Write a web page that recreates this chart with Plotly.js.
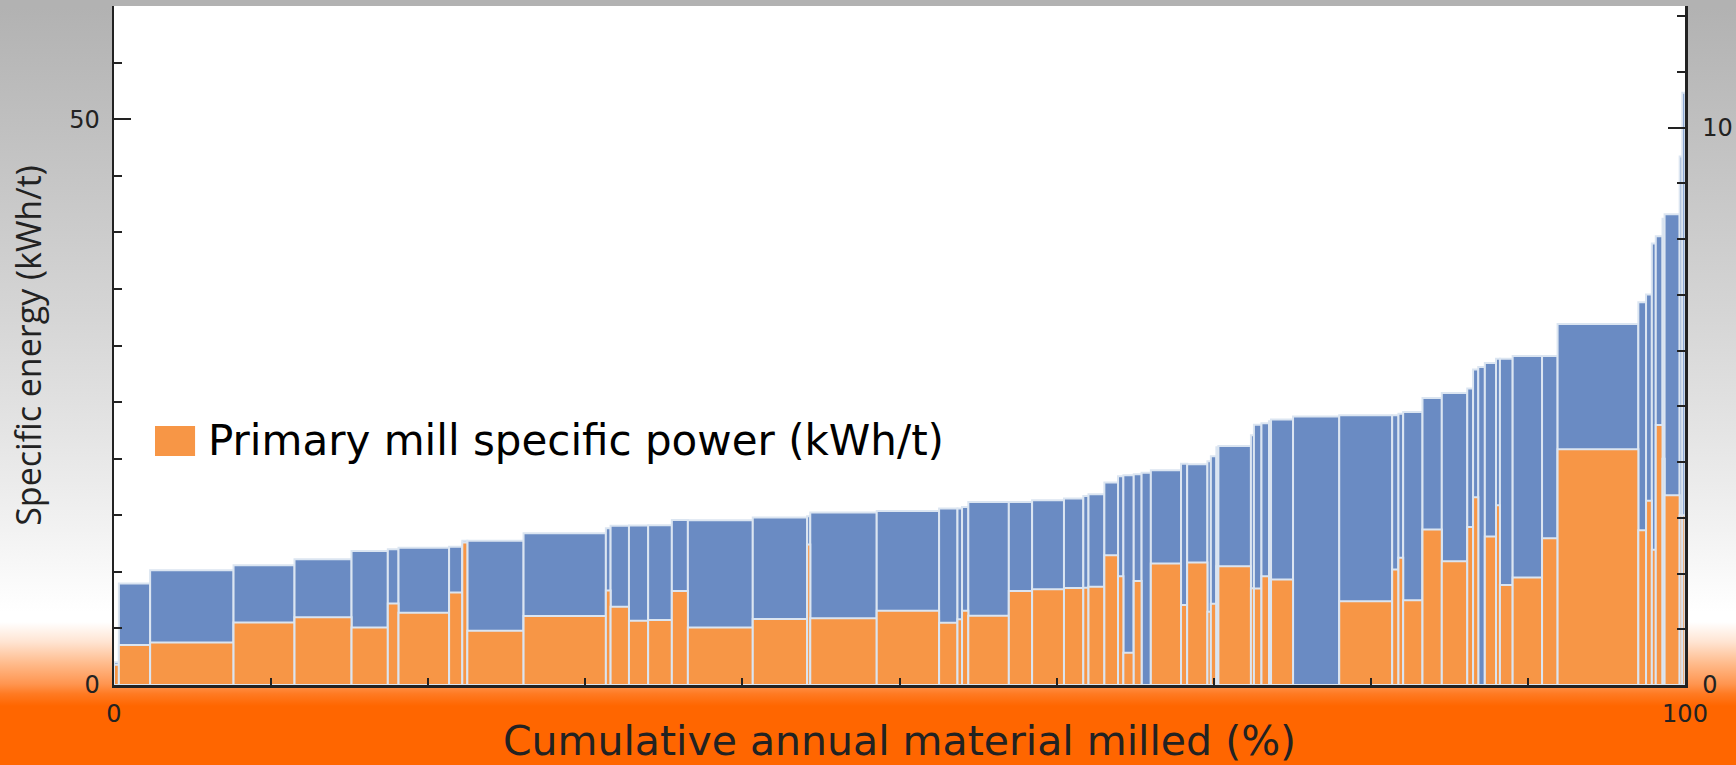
<!DOCTYPE html>
<html>
<head>
<meta charset="utf-8">
<script src="https://cdn.plot.ly/plotly-3.0.1.min.js"></script>
<style>
  html, body { margin: 0; padding: 0; }
  #chart {
    width: 1736px; height: 765px;
    background: linear-gradient(to bottom,
      #b2b2b2 0px, #b2b2b2 8px, #b8b8b8 60px, #c6c6c6 180px, #d6d6d6 320px,
      #e4e4e4 430px, #f2f2f2 530px, #ffffff 612px, #ffffff 622px,
      #ffe4d2 642px, #ffba8a 664px, #ff9550 684px, #ff7a22 694px, #ff6600 706px, #ff6600 765px);
  }
</style>
</head>
<body>
<div id="chart"></div>
<script>
// Share of annual material milled by each circuit (% of total), left to right
const shareWidth = [0.31, 1.99, 5.31, 3.88, 3.63, 2.31, 0.68, 3.22, 0.84, 0.32,
  3.58, 5.24, 0.30, 1.17, 1.22, 1.51, 1.02, 4.13, 3.46, 0.20,
  4.23, 3.97, 1.17, 0.29, 0.40, 2.58, 1.48, 2.03, 1.23, 0.33,
  1.01, 0.87, 0.34, 0.66, 0.50, 0.59, 1.92, 0.39, 1.29, 0.22,
  0.35, 0.13, 2.07, 0.19, 0.48, 0.48, 0.13, 1.40, 2.94, 3.37,
  0.40, 0.30, 1.23, 1.23, 1.62, 0.37, 0.33, 0.42, 0.71, 0.25,
  0.81, 1.87, 0.99, 5.14, 0.49, 0.37, 0.25, 0.43, 0.13, 0.96,
  0.17, 0.18];

// Total comminution specific energy (kWh/t)
const totalEnergy = [2.0, 8.97, 10.15, 10.59, 11.12, 11.85, 12.0, 12.12, 12.21, 12.74,
  12.74, 13.42, 13.86, 14.08, 14.1, 14.12, 14.58, 14.56, 14.8, 14.92,
  15.24, 15.38, 15.6, 15.6, 15.74, 16.17, 16.17, 16.33, 16.48, 16.7,
  16.86, 17.89, 18.45, 18.53, 18.62, 18.76, 18.98, 19.55, 19.51, 19.77,
  20.21, 21.0, 21.12, 22.06, 22.99, 23.12, 23.3, 23.45, 23.72, 23.83,
  23.83, 23.98, 24.12, 25.36, 25.8, 26.19, 27.87, 28.09, 28.45, 28.82,
  28.84, 29.07, 29.08, 31.9, 33.82, 34.51, 39.01, 39.66, 41.2, 41.59,
  46.7, 52.34];

// Primary mill specific power (kWh/t)
const primaryPower = [1.8, 3.53, 3.75, 5.53, 5.98, 5.09, 7.21, 6.38, 8.18, 12.6,
  4.79, 6.09, 8.34, 6.91, 5.67, 5.74, 8.3, 5.09, 5.83, 12.42,
  5.89, 6.56, 5.5, 5.8, 6.56, 6.12, 8.3, 8.46, 8.58, 8.6,
  8.68, 11.47, 9.62, 2.85, 9.18, 0, 10.74, 7.06, 10.83, 6.47,
  7.18, 10.5, 10.5, 8.56, 8.53, 9.62, 9.5, 9.33, 0, 7.41,
  10.21, 11.24, 7.5, 13.75, 10.94, 13.97, 16.59, 0, 13.13, 15.89,
  8.83, 9.5, 12.97, 20.84, 13.68, 16.28, 11.96, 22.97, 20.0, 16.77,
  15.0, 15.0];

const xTickLabels = ['0', '100'];
const yTickLabels = ['0', '50'];
const y2TickLabels = ['0', '10'];

// cumulative positions of each bar along the x axis
const centers = [];
let acc = 0;
for (const w of shareWidth) { centers.push(acc + w / 2); acc += w; }

const edge = '#dbe5f1';
const dark = '#222222';

const totalTrace = {
  type: 'bar', x: centers, y: totalEnergy, width: shareWidth,
  name: 'Total specific energy (kWh/t)',
  marker: { color: '#6a8bc3', line: { color: edge, width: 2 } },
  showlegend: false, hoverinfo: 'x+y'
};
const primaryTrace = {
  type: 'bar', x: centers, y: primaryPower.map(v => v > 0 ? v : null), width: shareWidth,
  name: 'Primary mill specific power (kWh/t)',
  marker: { color: '#f79646', line: { color: edge, width: 2 } },
  showlegend: false, hoverinfo: 'x+y'
};
const rightAxisTrace = {
  type: 'scatter', x: [], y: [], yaxis: 'y2', showlegend: false, hoverinfo: 'skip'
};

const tickFont = { family: 'DejaVu Sans, sans-serif', size: 24, color: dark };

const layout = {
  width: 1736, height: 765,
  margin: { l: 114, r: 51, t: 6, b: 80, pad: 0 },
  paper_bgcolor: 'rgba(0,0,0,0)',
  plot_bgcolor: '#ffffff',
  barmode: 'overlay', bargap: 0,
  showlegend: false,
  xaxis: {
    range: [0, 100], showgrid: false, zeroline: false,
    showline: true, linecolor: dark, linewidth: 2.5,
    ticks: 'inside', tickvals: [0, 100], ticktext: xTickLabels,
    ticklen: 7, tickwidth: 2, tickcolor: dark,
    minor: { dtick: 10, tick0: 0, ticks: 'inside', ticklen: 7, tickwidth: 2, tickcolor: dark, showgrid: false },
    tickfont: tickFont, ticklabelstandoff: 6,
    title: { text: 'Cumulative annual material milled (%)', font: { family: 'DejaVu Sans, sans-serif', size: 41, color: dark }, standoff: 2 },
    automargin: false, fixedrange: true
  },
  yaxis: {
    range: [0, 60], showgrid: false, zeroline: false,
    showline: true, linecolor: dark, linewidth: 2.5,
    ticks: 'inside', tickvals: [0, 50], ticktext: yTickLabels,
    ticklen: 17, tickwidth: 2, tickcolor: dark,
    minor: { dtick: 5, tick0: 0, ticks: 'inside', ticklen: 8, tickwidth: 2, tickcolor: dark, showgrid: false },
    tickfont: tickFont, ticklabelstandoff: 7,
    title: { text: 'Specific energy (kWh/t)', font: { family: 'Open Sans, sans-serif', size: 34, color: dark }, standoff: 18 },
    automargin: false, fixedrange: true
  },
  yaxis2: {
    overlaying: 'y', side: 'right', anchor: 'x',
    range: [0, 12.18], showgrid: false, zeroline: false,
    showline: true, linecolor: dark, linewidth: 2.5,
    ticks: 'inside', tickvals: [0, 10], ticktext: y2TickLabels,
    ticklen: 17, tickwidth: 2, tickcolor: dark,
    minor: { dtick: 1, tick0: 0, ticks: 'inside', ticklen: 8, tickwidth: 2, tickcolor: dark, showgrid: false },
    tickfont: tickFont, ticklabelstandoff: 10,
    automargin: false, fixedrange: true
  },
  shapes: [{
    type: 'rect', xref: 'paper', yref: 'paper',
    x0: 0.0261, x1: 0.0516, y0: 0.3373, y1: 0.3814,
    fillcolor: '#f79646', line: { width: 0 }
  }],
  annotations: [{
    xref: 'paper', yref: 'paper', x: 0.0585, y: 0.3594,
    xanchor: 'left', yanchor: 'middle', showarrow: false,
    text: 'Primary mill specific power (kWh/t)',
    font: { family: 'DejaVu Sans, sans-serif', size: 42, color: '#000000' }
  }]
};

Plotly.newPlot('chart', [totalTrace, primaryTrace, rightAxisTrace], layout, { displayModeBar: false, staticPlot: true });
</script>
</body>
</html>
